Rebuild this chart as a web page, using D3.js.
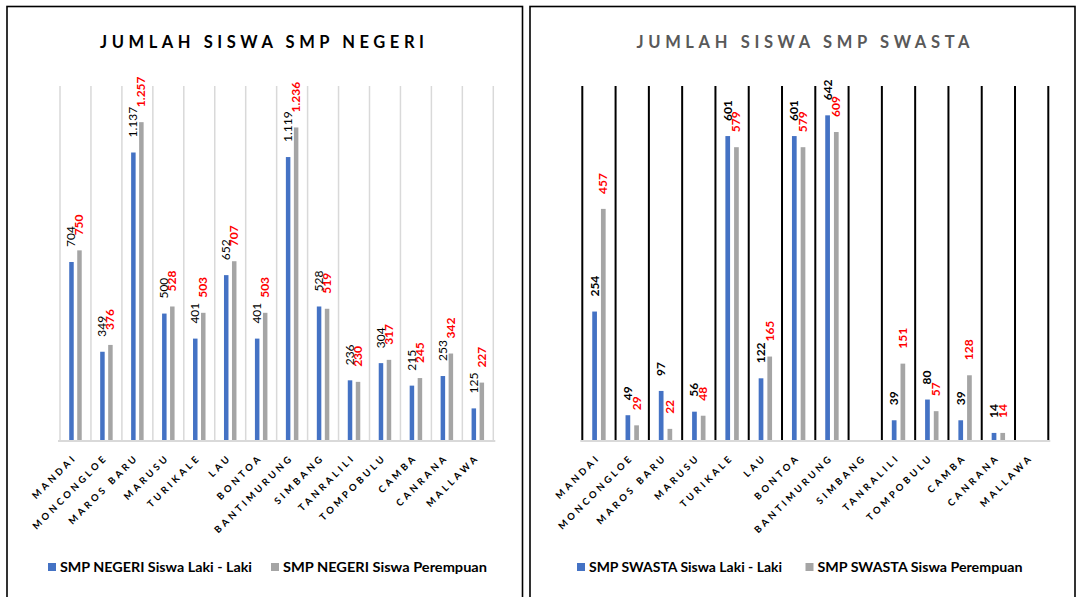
<!DOCTYPE html>
<html>
<head>
<meta charset="utf-8">
<script src="https://cdn.jsdelivr.net/npm/d3@7"></script>
<style>
    body { margin: 0; background: #fff; }
    svg { display: block; font-family: Lato, "Open Sans", sans-serif; }
</style>
</head>
<body>
<svg id="chart" width="1078" height="597"></svg>
<script>
/*
    Jumlah siswa SMP negeri / swasta per kecamatan.
*/

var categories = ["MANDAI", "MONCONGLOE", "MAROS BARU", "MARUSU", "TURIKALE", "LAU", "BONTOA",
    "BANTIMURUNG", "SIMBANG", "TANRALILI", "TOMPOBULU", "CAMBA", "CANRANA", "MALLAWA"];

var negeriLaki = [704, 349, 1137, 500, 401, 652, 401, 1119, 528, 236, 304, 215, 253, 125];
var negeriPerempuan = [750, 376, 1257, 528, 503, 707, 503, 1236, 519, 230, 317, 245, 342, 227];

// SIMBANG dan MALLAWA tidak ada data swasta
var swastaLaki = [254, 49, 97, 56, 601, 122, 601, 642, null, 39, 80, 39, 14, null];
var swastaPerempuan = [457, 29, 22, 48, 579, 165, 579, 609, null, 151, 57, 128, 14, null];

var seriesNames = ["laki", "perempuan"];

var svg = d3.select("#chart");

// bingkai panel
svg.append("rect").attr("x", 7).attr("y", 6.5).attr("width", 515.5).attr("height", 620)
    .attr("fill", "none").attr("stroke", "#000").attr("stroke-width", 1.6);
svg.append("rect").attr("x", 530).attr("y", 6.5).attr("width", 545).attr("height", 620)
    .attr("fill", "none").attr("stroke", "#000").attr("stroke-width", 1.6);

function drawPanel(cfg) {
    var g = svg.append("g");

    var x = d3.scaleBand().domain(categories).range([cfg.x0, cfg.x1]);
    var bw = x.bandwidth();
    var xs = d3.scaleBand().domain(seriesNames)
        .range([bw / 2 - cfg.pair, bw / 2 + cfg.pair])
        .paddingInner(1 - cfg.barW / cfg.pair)
        .paddingOuter((1 - cfg.barW / cfg.pair) / 2);
    var y = d3.scaleLinear().domain([0, cfg.max]).range([440, 86]);

    g.append("text")
        .attr("x", cfg.titleX).attr("y", 48)
        .attr("text-anchor", "middle")
        .attr("font-size", 16.5).attr("font-weight", "bold")
        .attr("fill", cfg.titleColor)
        .attr("textLength", cfg.titleW).attr("lengthAdjust", "spacing")
        .text(cfg.title);

    // garis pemisah kategori
    var bounds = categories.map(function(c) { return x(c); }).concat([cfg.x1]);
    g.selectAll(".grid").data(bounds).enter().append("line")
        .attr("x1", function(d) { return d; }).attr("x2", function(d) { return d; })
        .attr("y1", y(cfg.max)).attr("y2", y(0))
        .attr("stroke", cfg.gridColor).attr("stroke-width", cfg.gridW);

    g.append("line")
        .attr("x1", cfg.x0 - 2).attr("x2", cfg.x1 + 2)
        .attr("y1", y(0) + 1).attr("y2", y(0) + 1)
        .attr("stroke", "#d9d9d9").attr("stroke-width", 2);

    var rows = categories.map(function(c, i) {
        return [
            {cat: c, s: "laki", v: cfg.laki[i]},
            {cat: c, s: "perempuan", v: cfg.perempuan[i]}
        ];
    });
    var flat = d3.merge(rows).filter(function(d) { return d.v != null; });

    g.selectAll(".bar").data(flat).enter().append("rect")
        .attr("x", function(d) { return x(d.cat) + xs(d.s); })
        .attr("width", xs.bandwidth())
        .attr("y", function(d) { return y(d.v); })
        .attr("height", function(d) { return y(0) - y(d.v); })
        .attr("fill", function(d) { return d.s == "laki" ? "#4472c4" : "#a5a5a5"; });

    g.selectAll(".lbl").data(flat).enter().append("text")
        .attr("transform", function(d) {
            var cx = x(d.cat) + xs(d.s) + xs.bandwidth() / 2;
            return "translate(" + (cx + 4) + "," + (y(d.v) - 15) + ") rotate(-90)";
        })
        .attr("font-size", 12)
        .attr("font-weight", function(d) { return d.s == "laki" ? cfg.lakiWeight : "bold"; })
        .attr("fill", function(d) { return d.s == "laki" ? "#000" : "#ff0000"; })
        .text(function(d) { return d3.format(",")(d.v).replace(/,/g, "."); });

    // label kategori miring
    g.selectAll(".xl").data(categories).enter().append("text")
        .attr("transform", function(d) {
            return "translate(" + (x(d) + bw / 2 + 2) + "," + 458 + ") rotate(-45)";
        })
        .attr("text-anchor", "end")
        .attr("font-size", 9.5).attr("font-weight", "bold")
        .attr("letter-spacing", 3.2)
        .attr("fill", "#000")
        .text(function(d) { return d; });

    // legenda
    var leg = g.selectAll(".leg").data(cfg.legend).enter().append("g");
    leg.append("rect")
        .attr("x", function(d) { return d.x; }).attr("y", 563)
        .attr("width", 8).attr("height", 8)
        .attr("fill", function(d) { return d.color; });
    leg.append("text")
        .attr("x", function(d) { return d.x + 12; }).attr("y", 572)
        .attr("font-size", 13).attr("font-weight", "bold").attr("fill", "#000")
        .attr("textLength", function(d) { return d.w; }).attr("lengthAdjust", "spacingAndGlyphs")
        .text(function(d) { return d.label; });
}

drawPanel({
    title: "JUMLAH SISWA SMP NEGERI", titleX: 262, titleW: 324, titleColor: "#000",
    x0: 60, x1: 493.3, max: 1400,
    pair: 8, barW: 4.5,
    gridColor: "#d9d9d9", gridW: 1.5,
    laki: negeriLaki, perempuan: negeriPerempuan, lakiWeight: "normal",
    legend: [
        {x: 48, color: "#4472c4", label: "SMP NEGERI Siswa Laki - Laki", w: 192},
        {x: 271, color: "#a5a5a5", label: "SMP NEGERI Siswa Perempuan", w: 204}
    ]
});

drawPanel({
    title: "JUMLAH SISWA SMP SWASTA", titleX: 803, titleW: 333, titleColor: "#595959",
    x0: 582.3, x1: 1048.3, max: 700,
    pair: 8.7, barW: 4.7,
    gridColor: "#000", gridW: 2,
    laki: swastaLaki, perempuan: swastaPerempuan, lakiWeight: "bold",
    legend: [
        {x: 577, color: "#4472c4", label: "SMP SWASTA Siswa Laki - Laki", w: 193},
        {x: 805.5, color: "#a5a5a5", label: "SMP SWASTA Siswa Perempuan", w: 205}
    ]
});
</script>
</body>
</html>
